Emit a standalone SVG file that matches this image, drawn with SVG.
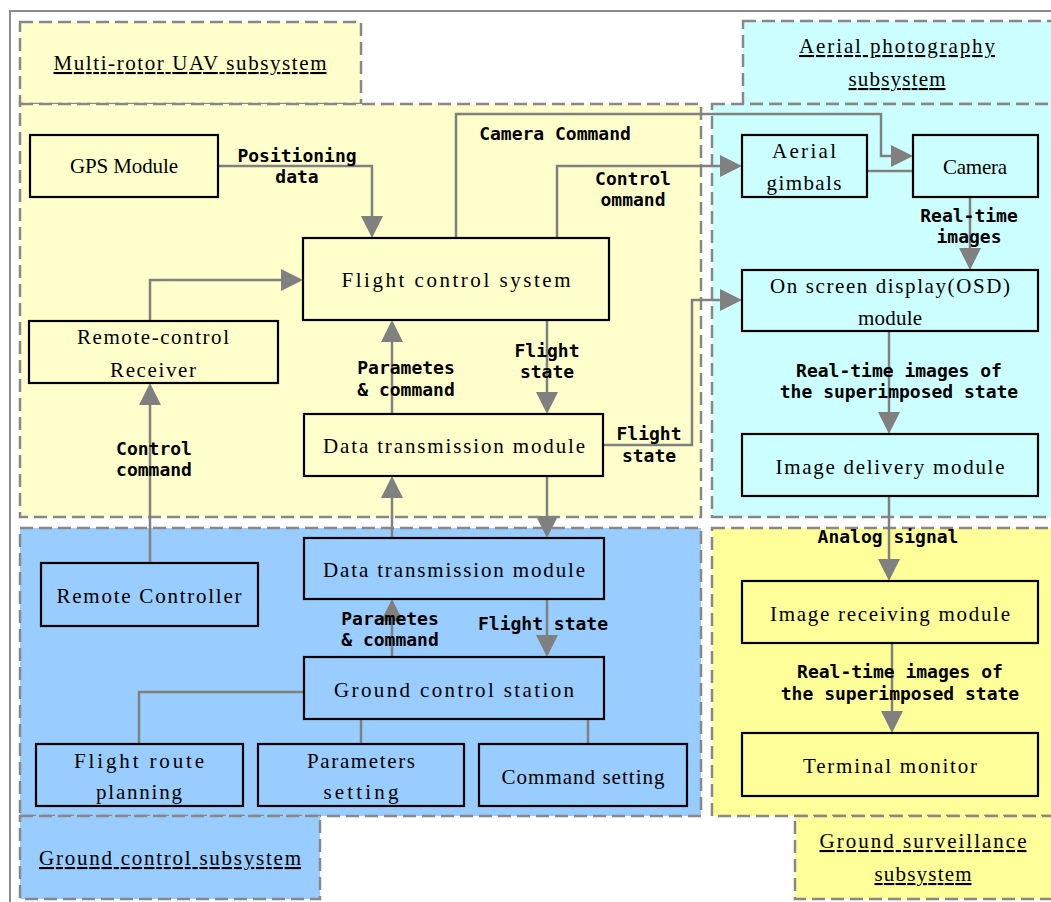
<svg xmlns="http://www.w3.org/2000/svg" width="1051" height="902" viewBox="0 0 1051 902">
<style>
.region{stroke:#888;stroke-width:2.5;stroke-dasharray:13 6}
.node rect{stroke:#000;stroke-width:2.2}
.nt{font-family:"Liberation Serif","DejaVu Serif",serif;font-size:21px;fill:#000;text-anchor:middle}
.st{font-family:"Liberation Serif","DejaVu Serif",serif;font-size:21px;fill:#000;text-anchor:middle;text-decoration:underline}
.el{font-family:"DejaVu Sans Mono","Liberation Mono",monospace;font-weight:bold;font-size:18px;fill:#000;text-anchor:middle}
.c path{fill:none;stroke:#808080;stroke-width:2.5}
.arr{marker-end:url(#ah)}
</style>
<defs>
<marker id="ah" markerUnits="userSpaceOnUse" markerWidth="24" markerHeight="24" refX="2" refY="11" orient="auto">
<path d="M0,0 L22,11 L0,22 z" fill="#808080"/>
</marker>
</defs>
<rect x="0" y="0" width="1051" height="902" fill="#fff"/>
<rect x="10" y="11" width="1060" height="900" fill="none" stroke="#8c8c8c" stroke-width="2"/>

<g id="regions">
<rect class="region" x="20" y="22" width="341" height="82" fill="#FFFFCC"/>
<rect class="region" x="20" y="104" width="681" height="413" fill="#FFFFCC"/>
<rect class="region" x="743" y="21" width="320" height="83" fill="#CCFFFF"/>
<rect class="region" x="712" y="104" width="350" height="413" fill="#CCFFFF"/>
<rect class="region" x="20" y="528" width="681" height="288" fill="#99CCFF"/>
<rect class="region" x="20" y="816" width="300" height="83" fill="#99CCFF"/>
<rect class="region" x="712" y="528" width="350" height="288" fill="#FFFF99"/>
<rect class="region" x="795" y="816" width="268" height="83" fill="#FFFF99"/>
<text class="st" x="190" y="70" textLength="273" lengthAdjust="spacing">Multi-rotor UAV subsystem</text>
<text class="st" x="897" y="53" textLength="196" lengthAdjust="spacing">Aerial photography</text>
<text class="st" x="897" y="86" textLength="97" lengthAdjust="spacing">subsystem</text>
<text class="st" x="170" y="865" textLength="262" lengthAdjust="spacing">Ground control subsystem</text>
<text class="st" x="923" y="848" textLength="207" lengthAdjust="spacing">Ground surveillance</text>
<text class="st" x="923" y="881" textLength="97" lengthAdjust="spacing">subsystem</text>
</g>

<g id="connectors" class="c">
<path class="arr" d="M218,166 H372 V218"/>
<path class="arr" d="M150,321 V280 H283"/>
<path class="arr" d="M456,238 V114 H881 V156 H893"/>
<path class="arr" d="M557,238 V166 H722"/>
<path d="M867,171 H913"/>
<path class="arr" d="M970,197 V250"/>
<path class="arr" d="M547,320 V394"/>
<path class="arr" d="M392,414 V340"/>
<path class="arr" d="M603,445 H692 V300 H722"/>
<path class="arr" d="M889,331 V414"/>
<path class="arr" d="M889,496 V561"/>
<path class="arr" d="M892,643 V713"/>
<path class="arr" d="M150,563 V403"/>
<path class="arr" d="M392,538 V496"/>
<path class="arr" d="M547,476 V518"/>
<path class="arr" d="M392,657 V619"/>
<path class="arr" d="M547,599 V637"/>
<path d="M304,692 H139 V744"/>
<path d="M361,719 V744"/>
<path d="M588,719 V744"/>
</g>

<g id="edge-labels">
<text class="el" x="297" y="162">Positioning</text>
<text class="el" x="297" y="183">data</text>
<text class="el" x="555" y="140">Camera Command</text>
<text class="el" x="633" y="185">Control</text>
<text class="el" x="633" y="206">ommand</text>
<text class="el" x="969" y="222">Real-time</text>
<text class="el" x="969" y="243">images</text>
<text class="el" x="154" y="455">Control</text>
<text class="el" x="154" y="476">command</text>
<text class="el" x="406" y="374">Parametes</text>
<text class="el" x="406" y="396">&amp; command</text>
<text class="el" x="547" y="357">Flight</text>
<text class="el" x="547" y="378">state</text>
<text class="el" x="649" y="440">Flight</text>
<text class="el" x="649" y="462">state</text>
<text class="el" x="899" y="377">Real-time images of</text>
<text class="el" x="899" y="398">the superimposed state</text>
<text class="el" x="888" y="543">Analog signal</text>
<text class="el" x="900" y="678">Real-time images of</text>
<text class="el" x="900" y="700">the superimposed state</text>
<text class="el" x="390" y="625">Parametes</text>
<text class="el" x="390" y="646">&amp; command</text>
<text class="el" x="543" y="630">Flight state</text>
</g>

<g id="gps" class="node"><rect x="30" y="135" width="188" height="62" fill="#FFFFCC"/><text class="nt" x="124" y="173" textLength="108" lengthAdjust="spacing">GPS Module</text></g>
<g id="fcs" class="node"><rect x="303" y="238" width="306" height="82" fill="#FFFFCC"/><text class="nt" x="456" y="287" textLength="229" lengthAdjust="spacing">Flight control system</text></g>
<g id="receiver" class="node"><rect x="29" y="321" width="249" height="62" fill="#FFFFCC"/><text class="nt" x="153" y="344" textLength="152" lengthAdjust="spacing">Remote-control</text><text class="nt" x="153" y="377" textLength="86" lengthAdjust="spacing">Receiver</text></g>
<g id="dt-upper" class="node"><rect x="304" y="414" width="299" height="62" fill="#FFFFCC"/><text class="nt" x="454" y="453" textLength="262" lengthAdjust="spacing">Data transmission module</text></g>
<g id="gimbals" class="node"><rect x="742" y="135" width="125" height="62" fill="#CCFFFF"/><text class="nt" x="804" y="158" textLength="64" lengthAdjust="spacing">Aerial</text><text class="nt" x="804" y="190" textLength="75" lengthAdjust="spacing">gimbals</text></g>
<g id="camera" class="node"><rect x="913" y="135" width="125" height="62" fill="#CCFFFF"/><text class="nt" x="975" y="174" textLength="64" lengthAdjust="spacing">Camera</text></g>
<g id="osd" class="node"><rect x="742" y="270" width="296" height="61" fill="#CCFFFF"/><text class="nt" x="890" y="293" textLength="240" lengthAdjust="spacing">On screen display(OSD)</text><text class="nt" x="890" y="325" textLength="64" lengthAdjust="spacing">module</text></g>
<g id="idm" class="node"><rect x="742" y="434" width="296" height="62" fill="#CCFFFF"/><text class="nt" x="890" y="474" textLength="229" lengthAdjust="spacing">Image delivery module</text></g>
<g id="rc" class="node"><rect x="41" y="563" width="217" height="63" fill="#99CCFF"/><text class="nt" x="149" y="603" textLength="185" lengthAdjust="spacing">Remote Controller</text></g>
<g id="dt-lower" class="node"><rect x="304" y="538" width="300" height="61" fill="#99CCFF"/><text class="nt" x="454" y="577" textLength="262" lengthAdjust="spacing">Data transmission module</text></g>
<g id="gcs" class="node"><rect x="304" y="657" width="300" height="62" fill="#99CCFF"/><text class="nt" x="454" y="697" textLength="240" lengthAdjust="spacing">Ground control station</text></g>
<g id="frp" class="node"><rect x="36" y="744" width="207" height="62" fill="#99CCFF"/><text class="nt" x="139" y="768" textLength="130" lengthAdjust="spacing">Flight route</text><text class="nt" x="139" y="799" textLength="86" lengthAdjust="spacing">planning</text></g>
<g id="ps" class="node"><rect x="258" y="744" width="206" height="62" fill="#99CCFF"/><text class="nt" x="361" y="768" textLength="108" lengthAdjust="spacing">Parameters</text><text class="nt" x="361" y="799" textLength="75" lengthAdjust="spacing">setting</text></g>
<g id="cs" class="node"><rect x="479" y="744" width="208" height="62" fill="#99CCFF"/><text class="nt" x="583" y="784" textLength="163" lengthAdjust="spacing">Command setting</text></g>
<g id="irm" class="node"><rect x="742" y="581" width="296" height="62" fill="#FFFF99"/><text class="nt" x="890" y="621" textLength="240" lengthAdjust="spacing">Image receiving module</text></g>
<g id="tm" class="node"><rect x="742" y="733" width="296" height="63" fill="#FFFF99"/><text class="nt" x="890" y="773" textLength="174" lengthAdjust="spacing">Terminal monitor</text></g>
</svg>
